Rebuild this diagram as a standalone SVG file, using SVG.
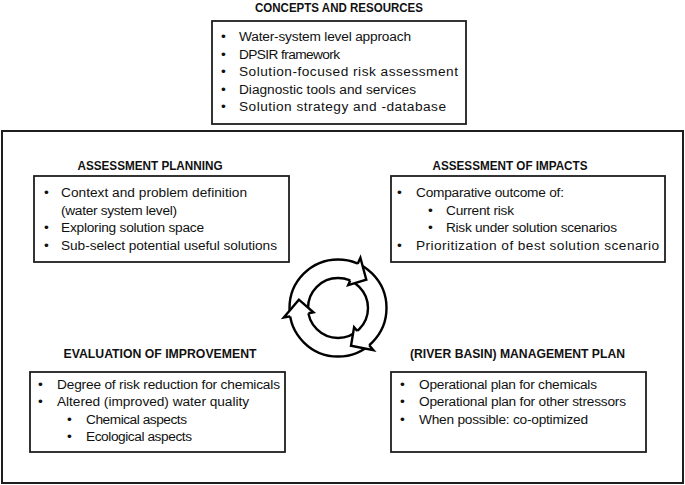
<svg xmlns="http://www.w3.org/2000/svg" width="685" height="485" viewBox="0 0 685 485">
<style>
.box{fill:#fff;stroke:#1e1e1e;stroke-width:1.8}
.outer{fill:#fff;stroke:#1e1e1e;stroke-width:2}
.t{font-family:"Liberation Sans",Arial,sans-serif;font-size:13.7px;fill:#111}
.h{font-family:"Liberation Sans",Arial,sans-serif;font-size:12px;font-weight:bold;fill:#111;text-anchor:middle}
.ring{fill:none;stroke:#000;stroke-width:2.4}
.head{fill:#fff;stroke:#000;stroke-width:2.4;stroke-linejoin:miter}
</style>
<rect width="685" height="485" fill="#fff"/>
<rect class="outer" x="2" y="131" width="681" height="352"/>

<g id="concepts">
<text class="h" x="339" y="12" textLength="168" lengthAdjust="spacingAndGlyphs">CONCEPTS AND RESOURCES</text>
<rect class="box" x="212" y="21" width="254" height="103"/>
<text class="t" x="221" y="41">•</text><text class="t" x="239" y="41" textLength="172" lengthAdjust="spacing">Water-system level approach</text>
<text class="t" x="221" y="58.5">•</text><text class="t" x="239" y="58.5" textLength="101" lengthAdjust="spacing">DPSIR framework</text>
<text class="t" x="221" y="76">•</text><text class="t" x="239" y="76" textLength="219" lengthAdjust="spacing">Solution-focused risk assessment</text>
<text class="t" x="221" y="93.5">•</text><text class="t" x="239" y="93.5" textLength="177" lengthAdjust="spacing">Diagnostic tools and services</text>
<text class="t" x="221" y="111">•</text><text class="t" x="239" y="111" textLength="207" lengthAdjust="spacing">Solution strategy and -database</text>
</g>

<g id="planning">
<text class="h" x="150" y="170" textLength="145" lengthAdjust="spacingAndGlyphs">ASSESSMENT PLANNING</text>
<rect class="box" x="34" y="176" width="255" height="86"/>
<text class="t" x="44" y="197">•</text><text class="t" x="61" y="197" textLength="186" lengthAdjust="spacing">Context and problem definition</text>
<text class="t" x="61" y="214.5" textLength="116" lengthAdjust="spacing">(water system level)</text>
<text class="t" x="44" y="232">•</text><text class="t" x="61" y="232" textLength="143" lengthAdjust="spacing">Exploring solution space</text>
<text class="t" x="44" y="249.5">•</text><text class="t" x="61" y="249.5" textLength="216" lengthAdjust="spacing">Sub-select potential useful solutions</text>
</g>

<g id="impacts">
<text class="h" x="510" y="170" textLength="155" lengthAdjust="spacingAndGlyphs">ASSESSMENT OF IMPACTS</text>
<rect class="box" x="391" y="176" width="274" height="86"/>
<text class="t" x="397" y="197">•</text><text class="t" x="416" y="197" textLength="148" lengthAdjust="spacing">Comparative outcome of:</text>
<text class="t" x="428" y="214.5">•</text><text class="t" x="446" y="214.5" textLength="68" lengthAdjust="spacing">Current risk</text>
<text class="t" x="428" y="232">•</text><text class="t" x="446" y="232" textLength="171" lengthAdjust="spacing">Risk under solution scenarios</text>
<text class="t" x="397" y="249.5">•</text><text class="t" x="416" y="249.5" textLength="243" lengthAdjust="spacing">Prioritization of best solution scenario</text>
</g>

<g id="evaluation">
<text class="h" x="160" y="358" textLength="193" lengthAdjust="spacingAndGlyphs">EVALUATION OF IMPROVEMENT</text>
<rect class="box" x="30" y="372" width="255" height="80"/>
<text class="t" x="38" y="388.5">•</text><text class="t" x="57" y="388.5" textLength="223" lengthAdjust="spacing">Degree of risk reduction for chemicals</text>
<text class="t" x="38" y="406">•</text><text class="t" x="57" y="406" textLength="192" lengthAdjust="spacing">Altered (improved) water quality</text>
<text class="t" x="67" y="423.5">•</text><text class="t" x="86" y="423.5" textLength="101" lengthAdjust="spacing">Chemical aspects</text>
<text class="t" x="67" y="441">•</text><text class="t" x="86" y="441" textLength="106" lengthAdjust="spacing">Ecological aspects</text>
</g>

<g id="management">
<text class="h" x="517.5" y="358" textLength="215" lengthAdjust="spacingAndGlyphs">(RIVER BASIN) MANAGEMENT PLAN</text>
<rect class="box" x="391" y="372" width="255" height="80"/>
<text class="t" x="400" y="388.5">•</text><text class="t" x="419" y="388.5" textLength="178" lengthAdjust="spacing">Operational plan for chemicals</text>
<text class="t" x="400" y="406">•</text><text class="t" x="419" y="406" textLength="207" lengthAdjust="spacing">Operational plan for other stressors</text>
<text class="t" x="400" y="423.5">•</text><text class="t" x="419" y="423.5" textLength="169" lengthAdjust="spacing">When possible: co-optimized</text>
</g>

<g id="connectors">
<circle class="ring" cx="338" cy="308" r="48.5"/>
<circle class="ring" cx="338" cy="308" r="30"/>
<path class="head" d="M357.7,263.7 L360.4,257.8 L366.3,279.7 L348.2,285.2 L350.2,280.6"/>
<path class="head" d="M369.2,345.2 L373.4,350.1 L351.0,345.8 L354.1,327.2 L357.3,331.0"/>
<path class="head" d="M290.2,316.4 L283.8,317.5 L298.9,299.7 L313.4,312.3 L308.5,313.2"/>
</g>
</svg>
